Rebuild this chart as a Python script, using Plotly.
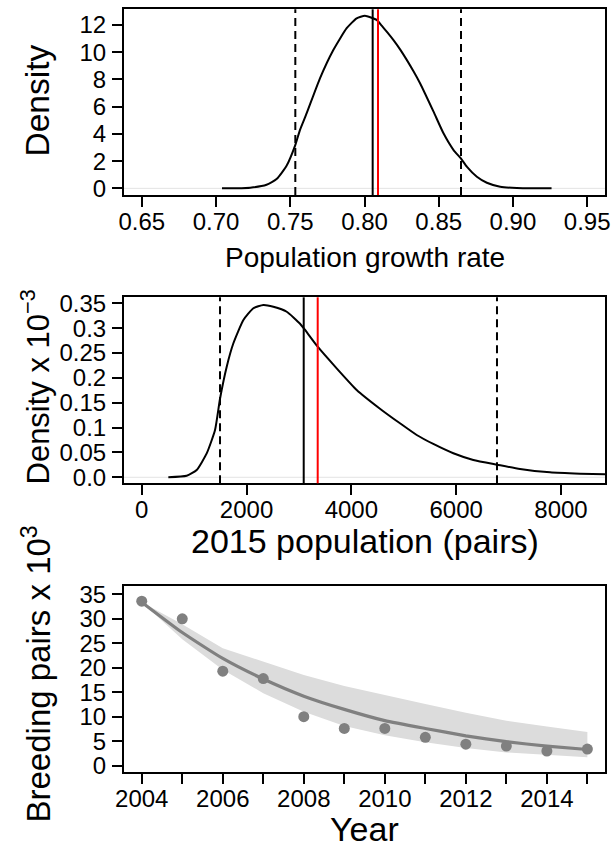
import plotly.graph_objects as go

# ---- Panel 1: posterior density of the population growth rate ----
growth_x = [0.704, 0.713, 0.723, 0.734, 0.741, 0.7475, 0.7533, 0.7565, 0.761, 0.770,
            0.779, 0.788, 0.7947, 0.8003, 0.8082, 0.8116, 0.8154, 0.8194, 0.8243, 0.8330,
            0.8375, 0.8465, 0.8532, 0.8600, 0.8649, 0.8689, 0.8757, 0.8824, 0.8914, 0.9026,
            0.914, 0.926]
growth_density = [0.0, 0.01, 0.05, 0.26, 0.70, 1.65, 3.15, 4.28, 5.5, 8.08,
                  10.16, 11.76, 12.49, 12.68, 12.37, 11.95, 11.45, 10.9, 10.15, 8.6,
                  7.7, 5.63, 4.04, 2.81, 2.2, 1.59, 0.85, 0.41, 0.12, 0.02,
                  0.0, 0.0]
growth_ci = [0.7534, 0.865]
growth_central = 0.8055
growth_point = 0.8091
growth_xticks = [0.65, 0.70, 0.75, 0.80, 0.85, 0.90, 0.95]
growth_xticktext = ["0.65", "0.70", "0.75", "0.80", "0.85", "0.90", "0.95"]
growth_yticks = [0, 2, 4, 6, 8, 10, 12]

# ---- Panel 2: posterior density of the 2015 population (density x 10^-3) ----
pop_x = [508, 858, 1049, 1240, 1399, 1494, 1622, 1749, 1940, 2130,
         2321, 2512, 2767, 3021, 3091, 3358, 3720, 4102, 4546, 4928,
         5247, 5564, 5946, 6327, 6779, 7218, 7790, 8363, 8840]
pop_density = [0.0, 0.003, 0.0147, 0.048, 0.0951, 0.158, 0.2225, 0.2696, 0.3164, 0.340,
               0.3467, 0.343, 0.333, 0.309, 0.300, 0.2627, 0.2192, 0.1757, 0.138, 0.1086,
               0.0851, 0.067, 0.0483, 0.0348, 0.0254, 0.0167, 0.010, 0.0073, 0.006]
pop_ci = [1494, 6779]
pop_central = 3091
pop_point = 3358
pop_xticks = [0, 2000, 4000, 6000, 8000]
pop_yticks = [0, 0.05, 0.1, 0.15, 0.2, 0.25, 0.3, 0.35]
pop_yticktext = ["0.0", "0.05", "0.1", "0.15", "0.2", "0.25", "0.3", "0.35"]

# ---- Panel 3: breeding pairs (x 10^3), observed counts and fitted trend ----
years = [2004, 2005, 2006, 2007, 2008, 2009, 2010, 2011, 2012, 2013, 2014, 2015]
observed = [33.6, 30.0, 19.3, 17.8, 10.0, 7.6, 7.6, 5.8, 4.4, 4.0, 3.0, 3.4]
fitted = [33.4, 27.2, 21.9, 17.7, 14.2, 11.5, 9.2, 7.6, 6.1, 4.9, 4.0, 3.3]
fit_upper = [33.4, 28.9, 24.0, 21.2, 18.5, 16.3, 14.4, 12.6, 10.8, 9.2, 8.0, 6.9]
fit_lower = [33.4, 25.8, 19.6, 14.8, 11.0, 8.1, 6.2, 4.8, 3.6, 2.7, 2.2, 1.7]
year_labels = [2004, 2006, 2008, 2010, 2012, 2014]
pairs_yticks = [0, 5, 10, 15, 20, 25, 30, 35]

W, H = 611, 848
FONT = "Liberation Sans, Arial, Helvetica, sans-serif"
GREY = "#808080"
BAND = "#DCDCDC"
TICK = 24


def fx(p):
    return p / W


def fy(p):
    return 1 - p / H


x_dom = [fx(124), fx(605)]
dom_top = [fy(195), fy(9.3)]
dom_mid = [fy(483.3), fy(297.3)]
dom_bot = [fy(771.7), fy(586)]

fig = go.Figure()

fig.add_trace(go.Scatter(x=growth_x, y=growth_density, mode="lines",
                         line=dict(color="black", width=2, shape="spline", smoothing=0.5),
                         xaxis="x", yaxis="y", hoverinfo="skip"))
fig.add_trace(go.Scatter(x=pop_x, y=pop_density, mode="lines",
                         line=dict(color="black", width=2, shape="spline", smoothing=0.5),
                         xaxis="x2", yaxis="y2", hoverinfo="skip"))
fig.add_trace(go.Scatter(x=years + years[::-1], y=fit_upper + fit_lower[::-1],
                         mode="lines", fill="toself", fillcolor=BAND,
                         line=dict(width=0, color=BAND), xaxis="x3", yaxis="y3",
                         hoverinfo="skip"))
fig.add_trace(go.Scatter(x=years, y=fitted, mode="lines",
                         line=dict(color=GREY, width=3.2, shape="spline", smoothing=0.5),
                         xaxis="x3", yaxis="y3"))
fig.add_trace(go.Scatter(x=years, y=observed, mode="markers",
                         marker=dict(color=GREY, size=11, line=dict(width=0)),
                         xaxis="x3", yaxis="y3"))

shapes = []
# zero reference lines of the density plots
for xr, yr in (("x", "y"), ("x2", "y2")):
    shapes.append(dict(type="line", xref=f"{xr} domain", yref=yr, x0=0, x1=1, y0=0, y1=0,
                       line=dict(color="#E3E3E3", width=1), layer="below"))


def vline(xr, yr, x, color, dash):
    return dict(type="line", xref=xr, yref=f"{yr} domain", x0=x, x1=x, y0=0, y1=1,
                line=dict(color=color, width=2, dash=dash))


for v in growth_ci:
    shapes.append(vline("x", "y", v, "black", "8px,5px"))
shapes.append(vline("x", "y", growth_central, "black", "solid"))
shapes.append(vline("x", "y", growth_point, "#FF0000", "solid"))
for v in pop_ci:
    shapes.append(vline("x2", "y2", v, "black", "8px,5px"))
shapes.append(vline("x2", "y2", pop_central, "black", "solid"))
shapes.append(vline("x2", "y2", pop_point, "#FF0000", "solid"))

axis_common = dict(showline=True, linecolor="black", linewidth=2, mirror=True,
                   ticks="outside", ticklen=10, tickwidth=2, tickcolor="black",
                   showgrid=False, zeroline=False, automargin=False,
                   tickfont=dict(family=FONT, size=TICK, color="black"))
x_common = dict(ticklabelstandoff=-6, **axis_common)
y_common = dict(ticklabelstandoff=1, **axis_common)

# every year gets a tick mark; only even years carry a label
odd_years = [y for y in years if y not in year_labels]

fig.update_layout(
    width=W, height=H, margin=dict(l=0, r=0, t=0, b=0),
    paper_bgcolor="white", plot_bgcolor="white", showlegend=False,
    font=dict(family=FONT, color="black"),
    xaxis=dict(domain=x_dom, anchor="y", range=[0.638, 0.962],
               tickvals=growth_xticks, ticktext=growth_xticktext, **x_common),
    yaxis=dict(domain=dom_top, anchor="x", range=[-0.49, 13.15],
               tickvals=growth_yticks, **y_common),
    xaxis2=dict(domain=x_dom, anchor="y2", range=[-338, 8840],
                tickvals=pop_xticks, **x_common),
    yaxis2=dict(domain=dom_mid, anchor="x2", range=[-0.0121, 0.3621],
                tickvals=pop_yticks, ticktext=pop_yticktext, **y_common),
    xaxis3=dict(domain=x_dom, anchor="y3", range=[2003.562, 2015.435],
                tickvals=year_labels,
                minor=dict(tickvals=odd_years, ticks="outside", ticklen=10, tickwidth=2,
                           tickcolor="black", showgrid=False),
                **x_common),
    yaxis3=dict(domain=dom_bot, anchor="x3", range=[-1.23, 36.7],
                tickvals=pairs_yticks, **y_common),
    shapes=shapes,
)


def title(text, x, y, size, angle=0):
    fig.add_annotation(text=text, x=fx(x), y=fy(y), xref="paper", yref="paper",
                       xanchor="center", yanchor="middle", showarrow=False,
                       textangle=angle, font=dict(family=FONT, size=size, color="black"))


title("Population growth rate", 364.5, 257, 28)
title("2015 population (pairs)", 364.5, 541, 34)
title("Year", 364.5, 829, 34)
title("Density", 37.5, 101, 33.5, -90)
title("Density x 10<sup>−3</sup>", 35.5, 387, 31, -90)
title("Breeding pairs x 10<sup>3</sup>", 36.5, 674, 33, -90)

fig.write_html("out.html")
